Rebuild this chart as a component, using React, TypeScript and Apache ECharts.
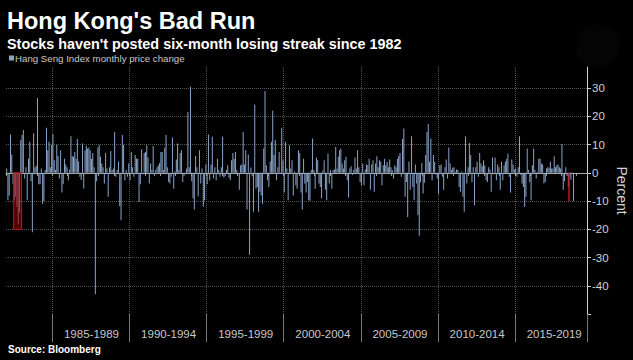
import React, { useEffect, useRef } from "react";
import * as echarts from "echarts";

// Hang Seng Index monthly price change (%), Jan 1982 – Oct 2018
const chg1982to1984 = [
  1.5, -9.7, -8, 13.6, 6.5, -4, -9.7, -8.5, -12, -18, -14, 11.6,
  13.4, 15.2, -2, 2, -9.7, 5, 11, -3, -21, 14, 2, 2.5,
  26.5, -4, -4, 1.5, -11, -10, 1, 16, 8, 11, 2, 10,
];
const chg1985to1989 = [
  13.7, 4.5, 1, 10, 6, -2, 8, -7, -4, 5, 3, 2,
  -2.6, 1.2, 13, 6, 5.7, 7.4, 5, 12, 4, -1.4, -2.5, 10.4,
  -5.5, 8, 9.5, 8.6, 9, 8, 5, 7, 2, -43, -3, 9,
  10, 5.7, 3.3, 2, -3.8, 7, 1.5, -8.5, 2, 7.7, 1, 1.5,
  14.5, -1.4, 1, 4, -11.8, -16.8, 13.4, 10, -2.6, 1, -1.4, 3.3,
];
const chg1990to1994 = [
  -2.6, 7.4, 2, -1.4, 6.3, 5, 5, -10.3, -4, 8.4, -0.5, 7,
  7.4, 9.8, 5.4, -3.8, 3.3, 1, 9.5, -1, 1, 2, 2.7, 3.5,
  7.4, 7.4, 1, 8.9, 13.4, 2, -3.2, -3.8, -1.4, 12.5, -5.6, 0.5,
  4.7, 10.4, 1, 7, 8, -3.2, -1, -0.5, 1.5, 21.6, 2, 30.5,
  -3, -9, -13, 6, 2, -8.3, 8, -3.8, 1.5, -12, -9.7, 3,
];
const chg1995to1999 = [
  -4, 13.6, -2.6, 3, 12.8, -2, 2, -2.6, 5, 1, -1.4, 2,
  12.8, -1.7, -1.2, 1, 2.7, -1.7, -2.6, 4.5, 7, 5, 7.4, 1,
  -0.5, -6, 2.7, 3, 14.5, 3, 8, -13, 6.5, -29, 1.9, -1.2,
  -13.8, 24.2, -5.6, -5, -13.8, -6.7, -8, -10.9, 8.6, 29, 2.7, -2.6,
  -5, 4, 11, 22, 6.3, 11.6, -2.6, 2, 7.4, -0.3, 16, 4.5,
];
const chg2000to2004 = [
  -7, 11, 1.5, -9.7, 9.8, 1.5, 4.5, -8, 0.5, -4.4, -5.6, 8,
  7, -7, -13, 5, -3.8, -7, -3.2, -9.7, -9.9, 1, 12.2, 1,
  -5.6, 5.4, 4.5, -3.8, -5, -9, 0.8, 4.5, -6, -9.7, 6.9, -3.8,
  1, -5.6, 1, 1.2, 9.2, 1.5, 5.7, 8, 8.6, 3.3, 1.5, 4.5,
  5.7, -2.6, -8.7, 1.5, 2.3, -0.8, 1, 5.4, 1.5, 8, 2, -3.2,
];
const chg2005to2009 = [
  -4.4, 3.3, -4.4, 1.2, 3, 2.7, 5, -6, 3, 4.5, -6.7, 3.3,
  5.9, 2, 4.5, 3.9, -4.4, 2.7, 5, 2.7, 3.9, 2, 4.7, 2,
  1, -2, 2.7, 2, 5, 6, 7, -1.4, 12, 15.7, -8.5, -3.2,
  -15.6, 4, -6, 13, -5, -9.7, 3, -3.8, -15, -22.3, -3.2, 3.5,
  -7.3, -3.5, 6.3, 14.5, 17.3, 3.9, 12.2, -2.6, 6.3, 3.9, -0.7, -2,
];
const chg2010to2014 = [
  -7.6, 2.7, 3, -1.4, -6, 2, 4.7, -2, 9, 3.3, 1, 1.8,
  2, 0.4, 1.2, 1, -5, -6.7, 0.5, -8.5, -13.8, 13, -3.8, 2,
  10.6, 6.3, -3.2, 2, -11.5, 2, 3.9, -1.4, 7, 3.3, 2.3, 4.5,
  2.7, -2.6, -3.2, 2, 1.2, -6.7, 5.4, -0.6, 5.4, -2.6, 3, 2,
  -6, 3.9, -2.6, 2.7, 3.9, 5, 6.9, -1.4, -7, 4.7, 3, 1.2,
];
const chg2015to2018 = [
  1.5, -1.4, 2, 13, -0.8, -3.8, -5, -12, -8.5, 8.6, 1, -3.2,
  -9.7, 2.7, 8.6, 1, -2, 0.3, 5, 5, 3.3, 3, -3.8, -3.2,
  1.5, 2, 1.8, 3.9, 1.5, 1.5, 5.9, 2, 2.7, 3, 2, 1.5,
  10.2, -6, -3, 2, -1.1, -5, -1.3, -2.4, -0.4, -10,
];

const periodLabels = ["1985-1989", "1990-1994", "1995-1999", "2000-2004", "2005-2009", "2010-2014", "2015-2019"];
const yTickLabels = [30, 20, 10, 0, -10, -20, -30, -40];
const yTicks = [30, 20, 10, 0, -10, -20, -30, -40, -50];

// Six-month losing streaks (highlight boxes)
const streakStart = ["1982-05", "2018-04"];
const streakEnd = ["1982-12", "2018-11"];
const streakLow = [-20, -10];

const SERIES_NAME = "Hang Seng Index monthly price change";
const START_YEAR = 1982;
const AXIS_MONTHS = 452; // Jan 1982 .. Aug 2019

const monthKey = (i: number) => {
  const y = START_YEAR + Math.floor(i / 12);
  const m = (i % 12) + 1;
  return `${y}-${m < 10 ? "0" + m : m}`;
};

export default function App() {
  const ref = useRef<HTMLDivElement>(null);

  useEffect(() => {
    document.body.style.margin = "0";
    document.body.style.background = "#000";
    if (!ref.current) return;
    const chart = echarts.init(ref.current, null, { renderer: "svg" });

    const months: string[] = [];
    for (let i = 0; i < AXIS_MONTHS; i++) months.push(monthKey(i));
    const values = [
      ...chg1982to1984, ...chg1985to1989, ...chg1990to1994, ...chg1995to1999,
      ...chg2000to2004, ...chg2005to2009, ...chg2010to2014, ...chg2015to2018,
    ];

    const labelMap: Record<string, string> = {};
    periodLabels.forEach((lab) => {
      const first = parseInt(lab.slice(0, 4), 10);
      labelMap[`${first + 2}-07`] = lab;
    });
    const yearIdx = (i: number) => i % 12 === 0;
    const fiveYearIdx = (i: number) => i >= 36 && (i - 36) % 60 === 0;

    const FONT = "'Liberation Sans', Arial, sans-serif";

    chart.setOption({
      animation: false,
      backgroundColor: "#000",
      textStyle: { fontFamily: FONT },
      title: {
        text: "Hong Kong's Bad Run",
        subtext: "Stocks haven't posted six-month losing streak since 1982",
        left: 7,
        top: 8,
        padding: 0,
        itemGap: 3,
        textStyle: { color: "#fff", fontSize: 23.5, fontWeight: "bold", fontFamily: FONT, lineHeight: 25 },
        subtextStyle: { color: "#fff", fontSize: 14.4, fontWeight: "bold", fontFamily: FONT, lineHeight: 16 },
      },
      legend: {
        left: 9,
        top: 53,
        padding: 0,
        itemWidth: 5,
        itemHeight: 5,
        icon: "rect",
        data: [SERIES_NAME],
        textStyle: { color: "#c8c8c8", fontSize: 9.7, fontFamily: FONT, padding: [0, 0, 0, -4] },
      },
      grid: { left: 6, right: 46, top: 67, bottom: 46, containLabel: false, outerBoundsMode: "none" },
      xAxis: [
        {
          type: "category",
          data: months,
          boundaryGap: true,
          position: "bottom",
          axisLine: { show: true, lineStyle: { color: "#a8a8a8", width: 1 } },
          axisTick: { show: true, interval: (i: number) => yearIdx(i), length: 3, lineStyle: { color: "#a8a8a8" } },
          axisLabel: {
            interval: (_i: number, v: string) => labelMap[v] !== undefined,
            formatter: (v: string) => labelMap[v] || "",
            color: "#c8c8c8",
            fontSize: 11.5,
            margin: 14,
          },
          splitLine: { show: true, interval: (i: number) => fiveYearIdx(i), lineStyle: { type: "dotted", color: "#555" } },
        },
        {
          type: "category",
          data: months,
          boundaryGap: true,
          position: "bottom",
          axisLine: { show: false },
          axisTick: { show: true, interval: (i: number) => fiveYearIdx(i), length: 28, lineStyle: { color: "#777" } },
          axisLabel: { show: false },
          splitLine: { show: false },
        },
      ],
      yAxis: {
        type: "value",
        position: "right",
        min: -50,
        max: 37.5,
        interval: 10,
        axisLine: { show: true, lineStyle: { color: "#d0d0d0" } },
        axisTick: { show: true, length: 4, customValues: yTicks, lineStyle: { color: "#d0d0d0" } },
        axisLabel: { customValues: yTickLabels, color: "#d0d0d0", fontSize: 11.5, margin: 5 },
        splitLine: { show: true, showMaxLine: false, lineStyle: { type: "dotted", color: "#555" } },
        name: "Percent",
        nameLocation: "middle",
        nameRotate: -90,
        nameGap: 28,
        nameMoveOverlap: false,
        nameTextStyle: { color: "#d0d0d0", fontSize: 14 },
      },
      series: [
        {
          type: "bar",
          name: SERIES_NAME,
          data: values,
          xAxisIndex: 0,
          barCategoryGap: "25%",
          itemStyle: { color: "#8aa4c8" },
          markArea: {
            silent: true,
            z: 5,
            label: { show: false },
            itemStyle: { color: "rgba(150,0,0,0.55)", borderColor: "#c81414", borderWidth: 1 },
            data: streakStart.map((s, k) => [
              { xAxis: s, yAxis: 0 },
              { xAxis: streakEnd[k], yAxis: streakLow[k] },
            ]),
          },
        },
      ],
      graphic: [
        { type: "circle", shape: { cx: 598, cy: 46, r: 22 }, style: { fill: "#040404" }, z: -1 },
        {
          type: "text",
          left: 8,
          top: 344,
          style: { text: "Source: Bloomberg", fill: "#ffffff", font: "bold 10px 'Liberation Sans', Arial, sans-serif" },
        },
      ],
    });

    return () => chart.dispose();
  }, []);

  return <div ref={ref} style={{ width: 633, height: 360, background: "#000" }} />;
}
